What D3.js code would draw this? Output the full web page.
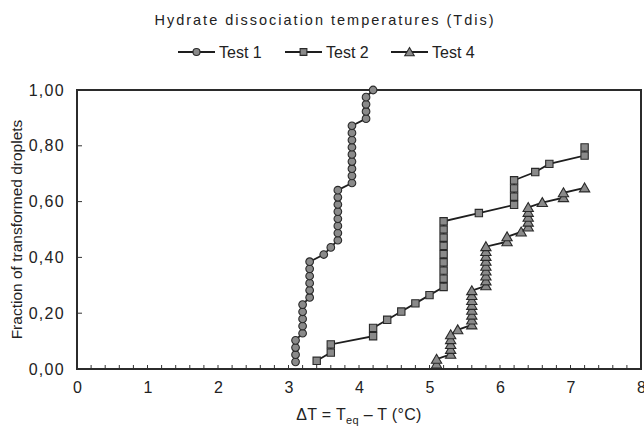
<!DOCTYPE html>
<html>
<head>
<meta charset="utf-8">
<script src="https://cdn.jsdelivr.net/npm/d3@7"></script>
<style>
  html, body { margin: 0; padding: 0; background: #fff; }
  svg { display: block; font-family: "Liberation Sans", Arial, sans-serif; }
</style>
</head>
<body>
<svg id="chart" width="644" height="429"></svg>
<script>
// ---- Data ----
const seriesNames = ["Test 1", "Test 2", "Test 4"];

const test1X = [3.1, 3.1, 3.1, 3.1, 3.2, 3.2, 3.2, 3.2, 3.2, 3.3, 3.3, 3.3, 3.3, 3.3, 3.3,
  3.5, 3.6, 3.7, 3.7, 3.7, 3.7, 3.7, 3.7, 3.7, 3.7,
  3.9, 3.9, 3.9, 3.9, 3.9, 3.9, 3.9, 3.9, 3.9, 4.1, 4.1, 4.1, 4.1, 4.2];
const test1Y = [0.0256, 0.0513, 0.0769, 0.1026, 0.1282, 0.1538, 0.1795, 0.2051, 0.2308, 0.2564,
  0.2821, 0.3077, 0.3333, 0.3590, 0.3846, 0.4103, 0.4359, 0.4615, 0.4872, 0.5128,
  0.5385, 0.5641, 0.5897, 0.6154, 0.6410, 0.6667, 0.6923, 0.7179, 0.7436, 0.7692,
  0.7949, 0.8205, 0.8462, 0.8718, 0.8974, 0.9231, 0.9487, 0.9744, 1.0];

const test2X = [3.4, 3.6, 3.6, 4.2, 4.2, 4.4, 4.6, 4.8, 5.0,
  5.2, 5.2, 5.2, 5.2, 5.2, 5.2, 5.2, 5.2, 5.2,
  5.7, 6.2, 6.2, 6.2, 6.2, 6.5, 6.7, 7.2, 7.2];
const test2Y = [0.0294, 0.0588, 0.0882, 0.1176, 0.1471, 0.1765, 0.2059, 0.2353, 0.2647,
  0.2941, 0.3235, 0.3529, 0.3824, 0.4118, 0.4412, 0.4706, 0.5000, 0.5294,
  0.5588, 0.5882, 0.6176, 0.6471, 0.6765, 0.7059, 0.7353, 0.7647, 0.7941];

const test4X = [5.1, 5.1, 5.3, 5.3, 5.3, 5.3, 5.3, 5.4,
  5.6, 5.6, 5.6, 5.6, 5.6, 5.6, 5.6, 5.6,
  5.8, 5.8, 5.8, 5.8, 5.8, 5.8, 5.8, 5.8, 5.8,
  6.1, 6.1, 6.3, 6.4, 6.4, 6.4, 6.4, 6.4, 6.6, 6.9, 6.9, 7.2];
const test4Y = [0.0175, 0.0351, 0.0526, 0.0702, 0.0877, 0.1053, 0.1228, 0.1404,
  0.1579, 0.1754, 0.1930, 0.2105, 0.2281, 0.2456, 0.2632, 0.2807,
  0.2982, 0.3158, 0.3333, 0.3509, 0.3684, 0.3860, 0.4035, 0.4211, 0.4386,
  0.4561, 0.4737, 0.4912, 0.5088, 0.5263, 0.5439, 0.5614, 0.5789, 0.5965,
  0.6140, 0.6316, 0.6491];

const xTicks = [0, 1, 2, 3, 4, 5, 6, 7, 8];
const yTicks = [0, 0.2, 0.4, 0.6, 0.8, 1.0];

// ---- Layout ----
const svg = d3.select("#chart");
const pLeft = 77, pRight = 641, pTop = 90, pBottom = 369;
const x = d3.scaleLinear().domain([0, 8]).range([pLeft, pRight]);
const y = d3.scaleLinear().domain([0, 1]).range([pBottom, pTop]);

const fmtY = v => d3.format(".2f")(v).replace(".", ",");
const lineColor = "#1e1e1e";
const markFill = "#8a8a8a";
const markStroke = "#2a2a2a";
const textColor = "#222";

// Title
svg.append("text").attr("x", 325).attr("y", 25)
  .attr("text-anchor", "middle").attr("font-size", 14.5).attr("letter-spacing", 2)
  .attr("fill", textColor).text("Hydrate dissociation temperatures (Tdis)");

// Axes
const xAxis = d3.axisBottom(x).tickValues(xTicks).tickSize(0).tickPadding(13).tickFormat(d3.format("d"));
const gx = svg.append("g").attr("transform", `translate(0,${pBottom})`).call(xAxis);
gx.select(".domain").remove();
gx.selectAll("text").attr("font-size", 16).attr("fill", textColor)
  .attr("font-family", "Liberation Sans, Arial, sans-serif");

const yAxis = d3.axisLeft(y).tickValues(yTicks).tickSize(0).tickPadding(12).tickFormat(fmtY);
const gy = svg.append("g").attr("transform", `translate(${pLeft},0)`).call(yAxis);
gy.select(".domain").remove();
gy.selectAll("text").attr("font-size", 16).attr("letter-spacing", 1.3).attr("fill", textColor)
  .attr("font-family", "Liberation Sans, Arial, sans-serif");

// minor ticks on x (inward), every 0.2
const minorX = d3.range(1, 40).map(i => i * 0.2);
svg.append("g").selectAll("line").data(minorX).join("line")
  .attr("x1", d => x(d)).attr("x2", d => x(d))
  .attr("y1", pBottom).attr("y2", pBottom - 4)
  .attr("stroke", "#333").attr("stroke-width", 1);
// y ticks inward
svg.append("g").selectAll("line").data(yTicks.slice(1, -1)).join("line")
  .attr("x1", pLeft).attr("x2", pLeft + 5)
  .attr("y1", d => y(d)).attr("y2", d => y(d))
  .attr("stroke", "#333").attr("stroke-width", 1);

// Frame
svg.append("rect").attr("x", pLeft).attr("y", pTop)
  .attr("width", pRight - pLeft).attr("height", pBottom - pTop)
  .attr("fill", "none").attr("stroke", "#2b2b2b").attr("stroke-width", 2);

// Axis titles
svg.append("text").attr("transform", `translate(16,${(pTop + pBottom) / 2}) rotate(-90)`)
  .attr("text-anchor", "middle").attr("dominant-baseline", "central")
  .attr("font-size", 15.5).attr("fill", textColor).text("Fraction of transformed droplets");

const xt = svg.append("text").attr("x", x(4)).attr("y", 420)
  .attr("text-anchor", "middle").attr("font-size", 16).attr("letter-spacing", 0.3).attr("fill", textColor);
xt.append("tspan").text("ΔT = T");
xt.append("tspan").attr("font-size", 11).attr("dy", 4).text("eq");
xt.append("tspan").attr("dy", -4).text(" – T (°C)");

// Series
const symbols = [d3.symbolCircle, d3.symbolSquare, d3.symbolTriangle];
const sizes = [46, 54, 46];
const series = [
  { name: seriesNames[0], xs: test1X, ys: test1Y },
  { name: seriesNames[1], xs: test2X, ys: test2Y },
  { name: seriesNames[2], xs: test4X, ys: test4Y }
];
const line = d3.line().x(d => x(d[0])).y(d => y(d[1]));

series.forEach((s, i) => {
  const pts = s.xs.map((v, j) => [v, s.ys[j]]);
  svg.append("path").datum(pts).attr("d", line)
    .attr("fill", "none").attr("stroke", lineColor).attr("stroke-width", 1.8);
  svg.append("g").selectAll("path").data(pts).join("path")
    .attr("transform", d => `translate(${x(d[0])},${y(d[1]) + (i === 2 ? 1 : 0)})`)
    .attr("d", d3.symbol().type(symbols[i]).size(sizes[i]))
    .attr("fill", markFill).attr("stroke", markStroke).attr("stroke-width", 1.1);
});

// Legend
const legX = [178, 285, 391];
series.forEach((s, i) => {
  const g = svg.append("g").attr("transform", `translate(${legX[i]},52)`);
  g.append("line").attr("x1", 0).attr("x2", 37).attr("y1", 0).attr("y2", 0)
    .attr("stroke", lineColor).attr("stroke-width", 1.8);
  g.append("path").attr("transform", `translate(18.5,${i === 2 ? 1 : 0})`)
    .attr("d", d3.symbol().type(symbols[i]).size(sizes[i] * 0.85))
    .attr("fill", markFill).attr("stroke", markStroke).attr("stroke-width", 1.1);
  g.append("text").attr("x", 41).attr("y", 0).attr("dominant-baseline", "central")
    .attr("font-size", 16).attr("fill", textColor).text(s.name);
});
</script>
</body>
</html>
